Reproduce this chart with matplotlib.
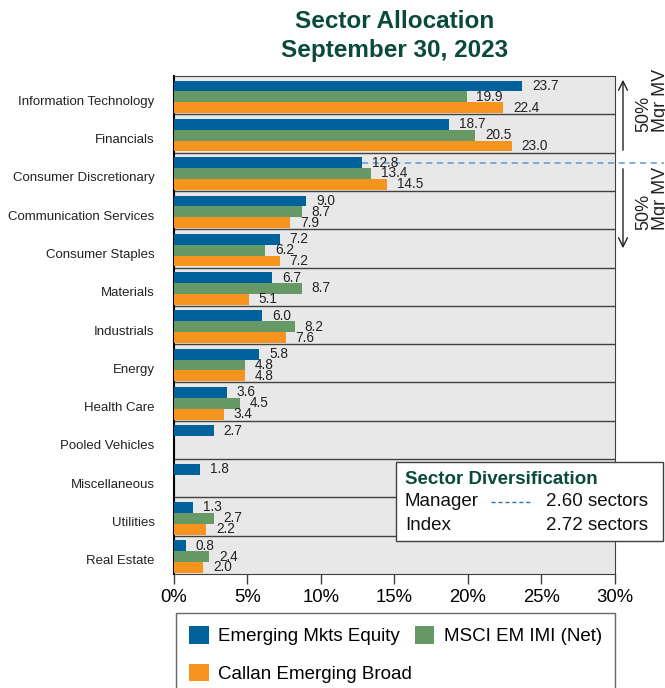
import matplotlib
matplotlib.use("Agg")
import matplotlib.pyplot as plt
import numpy as np
from matplotlib.patches import FancyArrowPatch, Patch, Rectangle
from matplotlib.lines import Line2D
import matplotlib.transforms as mtransforms

plt.rcParams['font.family'] = ['Liberation Sans', 'DejaVu Sans']

categories = ["Information Technology", "Financials", "Consumer Discretionary",
              "Communication Services", "Consumer Staples", "Materials",
              "Industrials", "Energy", "Health Care", "Pooled Vehicles",
              "Miscellaneous", "Utilities", "Real Estate"]
manager = [23.7, 18.7, 12.8, 9.0, 7.2, 6.7, 6.0, 5.8, 3.6, 2.7, 1.8, 1.3, 0.8]
index_vals = [19.9, 20.5, 13.4, 8.7, 6.2, 8.7, 8.2, 4.8, 4.5, np.nan, np.nan, 2.7, 2.4]
callan = [22.4, 23.0, 14.5, 7.9, 7.2, 5.1, 7.6, 4.8, 3.4, np.nan, np.nan, 2.2, 2.0]
series_names = ["Emerging Mkts Equity", "MSCI EM IMI (Net)", "Callan Emerging Broad"]
colors = ["#00629b", "#669966", "#f7941d"]
xticks = [0, 5, 10, 15, 20, 25, 30]
div_rows = [("Manager", "2.60 sectors"), ("Index", "2.72 sectors")]

W, H = 665, 688
fig = plt.figure(figsize=(W / 100, H / 100), dpi=100)
L, R, T, B = 174, 615, 76, 574
ax = fig.add_axes([L / W, 1 - B / H, (R - L) / W, (B - T) / H])
ax.set_facecolor("#e8e8e8")

n = len(categories)
h = 0.283
shift = 0.045
centers = np.arange(n) + 0.5 + shift
for k, (vals, col) in enumerate(zip([manager, index_vals, callan], colors)):
    y = centers + (k - 1) * h
    v = np.array(vals, dtype=float)
    ok = ~np.isnan(v)
    ax.barh(y[ok], v[ok], height=h, color=col, edgecolor="none", zorder=3)
    for yy, vv in zip(y[ok], v[ok]):
        ax.annotate(f"{vv:.1f}", (vv, yy), xytext=(7, 0), textcoords="offset points",
                    va="center", ha="left", fontsize=9.8, color="#222222", zorder=5)

for i in range(1, n):
    ax.axhline(i, color="#404040", lw=1.0, zorder=2)

ax.set_xlim(0, 30)
ax.set_ylim(n, 0)
ax.set_xticks(xticks)
ax.set_xticklabels([f"{t}%" for t in xticks], fontsize=13.3)
ax.tick_params(axis="x", length=7, width=1, color="#404040", pad=4)
ax.set_yticks(np.arange(n) + 0.5)
ax.set_yticklabels(categories, fontsize=9.5, color="#222222")
ax.tick_params(axis="y", length=0, pad=14)
off = mtransforms.ScaledTranslation(0, -5 / 100, fig.dpi_scale_trans)
for lab in ax.get_yticklabels():
    lab.set_transform(lab.get_transform() + off)
for s in ["top", "right", "bottom"]:
    ax.spines[s].set_color("#404040")
ax.spines["left"].set_color("black")
ax.spines["left"].set_linewidth(1.5)

# dashed 50% line at manager Consumer Discretionary bar
ydash = centers[2] - h
ax.plot([manager[2], 33.3], [ydash, ydash], ls=(0, (4, 3)), color="#5b9bd5",
        lw=1.1, clip_on=False, zorder=4)

# arrows on the right
def fpt(x, y):
    return (x / W, 1 - y / H)

fig.add_artist(FancyArrowPatch(fpt(623, 153), fpt(623, 77), transform=fig.transFigure,
                               arrowstyle="->", mutation_scale=16, lw=1.0, color="#222222"))
fig.add_artist(FancyArrowPatch(fpt(623, 166), fpt(623, 251), transform=fig.transFigure,
                               arrowstyle="->", mutation_scale=16, lw=1.0, color="#222222"))
for ystart in (132, 230):
    for xb, txt in ((648, "50%"), (665, "Mgr MV")):
        fig.text(xb / W, 1 - ystart / H, txt, rotation=90, rotation_mode="anchor",
                 ha="left", va="baseline", fontsize=13, color="#222222")

# title
tcol = "#0b4a3b"
fig.text(395 / W, 1 - 21 / H, "Sector Allocation", ha="center", va="center",
         fontsize=17.5, fontweight="bold", color=tcol)
fig.text(395 / W, 1 - 50 / H, "September 30, 2023", ha="center", va="center",
         fontsize=17.5, fontweight="bold", color=tcol)

# sector diversification box
fig.add_artist(Rectangle(fpt(396, 541), (663 - 396) / W, (541 - 462) / H,
                         transform=fig.transFigure, facecolor="white",
                         edgecolor="#404040", lw=1.0, zorder=6))
fig.text(405 / W, 1 - 479 / H, "Sector Diversification", ha="left", va="center",
         fontsize=13.5, fontweight="bold", color=tcol, zorder=7)
for j, (name, val) in enumerate(div_rows):
    yc = 502 + 23 * j
    fig.text(405 / W, 1 - yc / H, name, ha="left", va="center", fontsize=13.5,
             color="#111111", zorder=7)
    fig.text(648 / W, 1 - yc / H, val, ha="right", va="center", fontsize=13.5,
             color="#111111", zorder=7)
fig.add_artist(Line2D([491 / W, 533 / W], [1 - 502 / H, 1 - 502 / H],
                      transform=fig.transFigure, ls=(0, (3, 2)), color="#2f78b5",
                      lw=1.0, zorder=7))

# legend (row-wise order: reorder for column-major filling)
handles = [Patch(facecolor=c, edgecolor="none") for c in colors]
order = [0, 2, 1]
leg = fig.legend([handles[i] for i in order], [series_names[i] for i in order],
                 loc="upper left",
                 bbox_to_anchor=(176 / W, 1 - 613 / H - 0.01, (615 - 176) / W, 0.01),
                 mode="expand", ncol=2, fontsize=13.5, frameon=True, fancybox=False,
                 edgecolor="#404040", handlelength=1.05, handleheight=1.05,
                 handletextpad=0.5, columnspacing=0.6, labelspacing=1.0,
                 borderpad=0.7, borderaxespad=0)
leg.get_frame().set_linewidth(1.0)

fig.savefig("out.png", dpi=100)
